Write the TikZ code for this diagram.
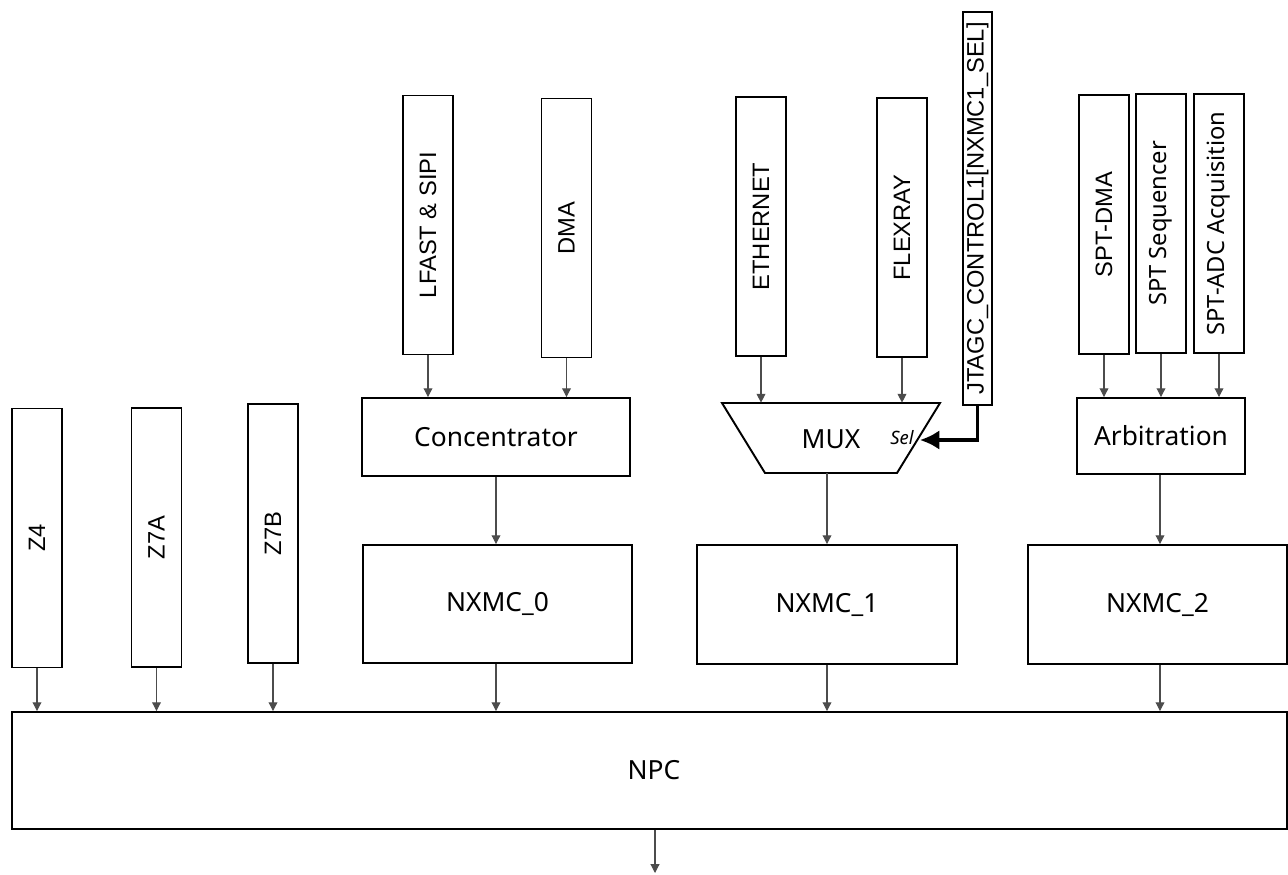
\documentclass[tikz,border=0pt]{standalone}
\usepackage{fontspec}
\usetikzlibrary{arrows.meta}
\newfontfamily\arialf{Liberation Sans}
\newfontfamily\segoef{Noto Sans}
\begin{document}
\begin{tikzpicture}[x=0.02cm, y=-0.02cm,
  blk/.style={draw=black, line width=1.1pt, fill=white, inner sep=0pt},
  % rotated boxes: width runs along the text, i.e. vertically
  vbox/.style={blk, minimum width=5.18cm, minimum height=1cm},
  atxt/.style={font=\arialf\fontsize{13.5}{16}\selectfont},
  svtxt/.style={font=\segoef\fontsize{13.5}{16}\selectfont},
  stxt/.style={font=\segoef\fontsize{15}{18}\selectfont},
  conn/.style={draw=black!70, line width=0.6pt, -{Triangle[length=5pt,width=5pt]}},
  selconn/.style={draw=black, line width=1.8pt, -{Latex[length=11pt,width=11pt]}}]
\useasboundingbox (0,0) rectangle (1288,875);

% ---- bus masters on the left
\node[vbox, atxt, rotate=90] (z4)  at (37,538)    {Z4};
\node[vbox, atxt, rotate=90] (z7a) at (156.5,537.5) {Z7A};
\node[vbox, atxt, rotate=90] (z7b) at (273,533.5) {Z7B};

% ---- NXMC_0 group
\node[vbox, atxt, rotate=90] (lfast) at (428,225)   {LFAST \& SIPI};
\node[vbox, atxt, rotate=90] (dma)   at (566.5,228) {DMA};
\node[blk, stxt, minimum width=5.36cm, minimum height=1.56cm] (conc) at (496,437) {Concentrator};
\node[blk, stxt, minimum width=5.38cm, minimum height=2.36cm] (nx0) at (497.5,604) {NXMC\_0};
\coordinate (concx) at (496,0);

% ---- NXMC_1 group
\node[vbox, atxt, rotate=90] (eth) at (761,226.5) {ETHERNET};
\node[vbox, atxt, rotate=90] (flx) at (902,227.5) {FLEXRAY};
\node[blk, atxt, rotate=90, minimum width=7.86cm, minimum height=0.58cm] (jtag) at (977.5,208.5) {JTAGC\_CONTROL1[NXMC1\_SEL]};
\draw[blk] (722,403) -- (940,403) -- (897,473) -- (765,473) -- cycle;
\node[inner sep=0pt, minimum width=4.36cm, minimum height=1.4cm] (mux) at (831,438) {};
\node[stxt, inner sep=0pt] (muxlbl) at (831,439) {MUX};
\node[font=\segoef\bfseries\itshape\fontsize{10.5}{12}\selectfont, inner sep=0pt] (sel) at (902,438) {Sel};
\coordinate (selin) at (920,440);
\node[blk, stxt, minimum width=5.2cm, minimum height=2.38cm] (nx1) at (827,604.5) {NXMC\_1};

% ---- NXMC_2 group
\node[vbox, atxt, rotate=90] (sdma) at (1104,224.5) {SPT-DMA};
\node[vbox, svtxt, rotate=90] (sseq) at (1161,223.5) {SPT Sequencer};
\node[vbox, svtxt, rotate=90] (sadc) at (1219,223.5) {SPT-ADC Acquisition};
\node[blk, stxt, minimum width=3.36cm, minimum height=1.52cm] (arb) at (1161,436) {Arbitration};
\node[blk, stxt, minimum width=5.18cm, minimum height=2.38cm] (nx2) at (1157.5,604.5) {NXMC\_2};
\coordinate (arbx) at (1160,0);

% ---- NPC
\node[blk, minimum width=25.5cm, minimum height=2.34cm] (npc) at (649.5,770.5) {};
\node[stxt, inner sep=0pt] (npclbl) at (654,770) {NPC};
\coordinate (npcout) at (655,873);

% ---- connectors
\foreach \n in {z4,z7a,z7b} \draw[conn] (\n.west) -- (\n.west |- npc.north);
\draw[conn] (lfast.west) -- (lfast.west |- conc.north);
\draw[conn] (dma.west) -- (dma.west |- conc.north);
\draw[conn] (conc.south -| concx) -- (nx0.north -| concx);
\draw[conn] (nx0.south -| concx) -- (npc.north -| concx);
\draw[conn] (eth.west) -- (eth.west |- mux.north);
\draw[conn] (flx.west) -- (flx.west |- mux.north);
\draw[conn] (nx1.north |- mux.south) -- (nx1.north);
\draw[conn] (nx1.south) -- (nx1.south |- npc.north);
\draw[selconn] (jtag.west) |- (selin);
\foreach \n in {sdma,sseq,sadc} \draw[conn] (\n.west) -- (\n.west |- arb.north);
\draw[conn] (arb.south -| arbx) -- (nx2.north -| arbx);
\draw[conn] (nx2.south -| arbx) -- (npc.north -| arbx);
\draw[conn] (npc.south -| npcout) -- (npcout);
\end{tikzpicture}
\end{document}
